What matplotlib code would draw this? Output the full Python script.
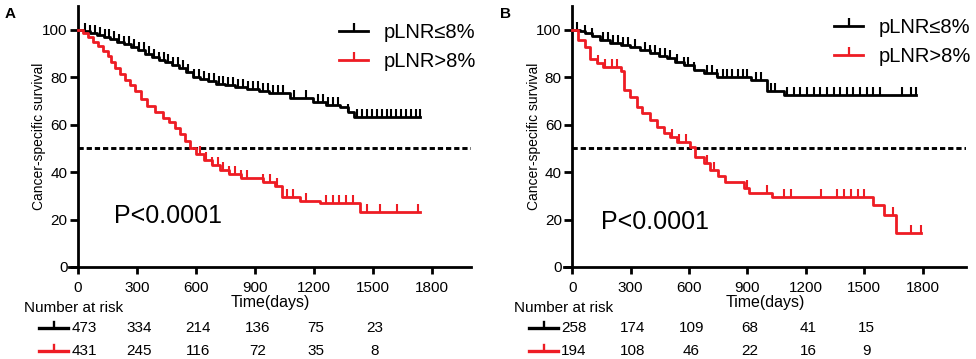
import matplotlib
matplotlib.use('Agg')
import matplotlib.pyplot as plt
from matplotlib import font_manager
from matplotlib.lines import Line2D
from matplotlib.transforms import blended_transform_factory

# panel A: pLNR<=8% (black) / pLNR>8% (red)
a_black_t = [0, 30, 60, 95, 130, 165, 200, 235, 270, 305, 340, 375, 410, 445, 480, 515, 550, 585,
             620, 660, 700, 750, 800, 860, 920, 970, 1078, 1196, 1264, 1332, 1373, 1405]
a_black_s = [100, 99.3, 98.6, 97.8, 97, 96, 95, 94, 92.8, 91.3, 89.8, 88.6, 87.4, 86.2, 85, 83.8, 82, 80.2,
             79.2, 78.2, 77.3, 76.5, 75.8, 75, 74.2, 73.3, 71.1, 69.7, 68.3, 67.4, 65.4, 63.3]
a_black_end = 1740
a_black_cens = [35, 60, 85, 110, 135, 160, 185, 210, 235, 260, 285, 310, 335, 360, 385, 410, 435, 460,
                485, 510, 535, 560, 590, 615, 640, 665, 690, 715, 740, 765, 790, 815, 840, 865, 890, 915,
                940, 966, 991, 1017, 1042, 1100, 1162, 1220, 1245, 1271, 1296, 1322, 1373, 1420, 1445,
                1470, 1495, 1520, 1545, 1570, 1595, 1620, 1645, 1670, 1695, 1720, 1740]

a_red_t = [0, 25, 50, 75, 100, 125, 150, 170, 190, 215, 240, 265, 290, 320, 350, 390, 430, 465, 495,
           520, 545, 570, 600, 640, 680, 720, 770, 830, 940, 1000, 1040, 1129, 1230, 1434]
a_red_s = [100, 98.5, 97, 95, 93, 91, 89, 86.5, 84, 81.5, 79, 76.5, 74, 71, 68, 65.5, 63, 61, 58.5,
           56, 53, 50, 47.5, 45, 43, 41, 39, 37.5, 36, 34, 29.6, 28, 27, 23]
a_red_end = 1740
a_red_cens = [620, 650, 680, 710, 740, 770, 800, 830, 860, 940, 976, 1011, 1062, 1095, 1160, 1260,
              1296, 1330, 1365, 1398, 1469, 1535, 1622, 1728]

# panel B
b_black_t = [0, 41, 67, 100, 144, 196, 250, 298, 350, 401, 445, 487, 530, 572, 623, 675, 745, 916, 1000, 1087]
b_black_s = [100, 99.3, 98.6, 97.2, 95.6, 94.3, 93.6, 92.9, 91.4, 90, 89, 88, 86.5, 85, 83, 81.6, 80.2,
             78.8, 74, 72.5]
b_black_end = 1765
b_black_cens = [26, 67, 103, 160, 185, 211, 237, 262, 288, 324, 376, 401, 427, 453, 479, 504, 539, 573,
                597, 623, 694, 720, 745, 772, 797, 823, 849, 875, 900, 942, 967, 1020, 1040, 1104, 1138,
                1172, 1206, 1240, 1274, 1308, 1342, 1376, 1410, 1444, 1478, 1512, 1546, 1580, 1693,
                1740, 1765]

b_red_t = [0, 31, 67, 93, 128, 160, 250, 265, 298, 334, 360, 401, 437, 470, 504, 539, 607, 633, 675,
           710, 751, 787, 880, 906, 1028, 1542, 1600, 1662]
b_red_s = [100, 95.6, 92.8, 87.5, 85.8, 84.4, 82.5, 74.6, 71.8, 67.6, 65, 62, 59, 56.4, 55, 52.7, 50.5,
           46.5, 43.7, 41, 38.5, 36, 33.5, 31.3, 29.6, 26.1, 21.9, 14.3]
b_red_end = 1791
b_red_cens = [134, 170, 206, 232, 514, 546, 582, 694, 726, 899, 1002, 1087, 1122, 1276, 1362, 1396,
              1431, 1465, 1498, 1645, 1740, 1791]

risk_times = [0, 300, 600, 900, 1200, 1500]
a_risk_black = [473, 334, 214, 136, 75, 23]
a_risk_red = [431, 245, 116, 72, 35, 8]
b_risk_black = [258, 174, 109, 68, 41, 15]
b_risk_red = [194, 108, 46, 22, 16, 9]

labels = ['pLNR≤8%', 'pLNR>8%']
RED = '#ee1c24'
BLACK = '#000000'


def pick_font(names):
    for n in names:
        try:
            font_manager.findfont(n, fallback_to_default=False)
            return n
        except Exception:
            pass
    return 'DejaVu Sans'


NARROW = pick_font(['Liberation Sans Narrow', 'Liberation Sans', 'Arial'])
WIDE = pick_font(['Liberation Sans', 'Arial'])
plt.rcParams['font.family'] = [NARROW, 'DejaVu Sans']

W, H = 976, 359
fig = plt.figure(figsize=(W / 100, H / 100), dpi=100)


def draw_curve(ax, t, s, end, cens, color):
    ax.step(t + [end], s + [s[-1]], where='post', color=color, lw=2.0, zorder=3)
    # survival at each censor time
    cs = []
    for c in cens:
        v = s[0]
        for ti, si in zip(t, s):
            if ti <= c:
                v = si
        cs.append(v)
    ax.plot(cens, cs, ls='none', marker=2, ms=5.5, mew=1.5, color=color, zorder=3)


def panel(left_px, table_px, xmax, letter, curves, risks, ptext_x, ptext_y):
    x0 = -46 if letter == 'A' else -42
    ax = fig.add_axes([left_px / W, (H - 267) / H, 402 / W, 261 / H])
    ax.set_xlim(x0, xmax)
    ax.set_ylim(0, 110)
    for sp in ['top', 'right']:
        ax.spines[sp].set_visible(False)
    ax.spines['left'].set_position(('data', 0))
    ax.spines['left'].set_bounds(0, 110)
    for sp in ['left', 'bottom']:
        ax.spines[sp].set_linewidth(2.0)
    ax.set_xticks([0, 300, 600, 900, 1200, 1500, 1800])
    ax.set_yticks([0, 20, 40, 60, 80, 100])
    ax.tick_params(axis='both', width=2.0, labelsize=11, colors='black')
    ax.tick_params(axis='y', length=6, pad=1.5)
    ax.tick_params(axis='x', length=5, pad=5)
    ax.set_xlabel('Time(days)', fontsize=11.5, labelpad=0)
    ax.set_ylabel('Cancer-specific survival', fontsize=10, labelpad=5)
    ax.yaxis.set_label_coords(-0.058, 0.5)

    ax.hlines(50, 0, xmax, colors='black', lw=2.1, linestyles=(0, (1.8, 1.0)), zorder=2)

    for (t, s, end, cens, color) in curves:
        draw_curve(ax, t, s, end, cens, color)

    handles = [Line2D([0], [0], color=c, lw=2.0, marker=2, ms=6, mew=1.6) for c in (BLACK, RED)]
    ax.legend(handles, labels, loc='upper left', bbox_to_anchor=(0.672, 0.935 if letter == 'A' else 0.955),
              frameon=False, prop={'family': WIDE, 'size': 14.5}, numpoints=1,
              handlelength=1.45, handletextpad=0.75, labelspacing=0.5, borderpad=0, borderaxespad=0)

    ax.text(ptext_x, ptext_y, 'P<0.0001', fontsize=18, family=WIDE, ha='left', va='center')

    fig.text((left_px - 64) / W, 1 - 7 / H, letter, fontsize=11, fontweight='bold', family=WIDE,
             ha='left', va='top')

    # number at risk table
    tl = table_px
    fig.text(tl / W, 1 - 308 / H, 'Number at risk', fontsize=11, ha='left', va='center')
    tr = blended_transform_factory(ax.transData, fig.transFigure)
    for row_y, vals, color in [(328, risks[0], BLACK), (351, risks[1], RED)]:
        yf = 1 - row_y / H
        fig.add_artist(Line2D([(tl + 15) / W, (tl + 44) / W], [yf, yf], color=color, lw=2.4,
                              transform=fig.transFigure))
        fig.add_artist(Line2D([(tl + 29.5) / W] * 2, [yf, yf + 6 / H], color=color, lw=1.7,
                              transform=fig.transFigure))
        fig.text((tl + 60) / W, yf, str(vals[0]), fontsize=11, ha='center', va='center')
        for tt, v in zip(risk_times[1:], vals[1:]):
            ax.text(tt + 12, yf, str(v), transform=tr, fontsize=11, ha='center', va='center')
    return ax


panel(69, 24, 2000, 'A',
      [(a_black_t, a_black_s, a_black_end, a_black_cens, BLACK),
       (a_red_t, a_red_s, a_red_end, a_red_cens, RED)],
      (a_risk_black, a_risk_red), 185, 21.5)
panel(564, 514, 2022, 'B',
      [(b_black_t, b_black_s, b_black_end, b_black_cens, BLACK),
       (b_red_t, b_red_s, b_red_end, b_red_cens, RED)],
      (b_risk_black, b_risk_red), 150, 19)

fig.savefig('out.png', dpi=100)
